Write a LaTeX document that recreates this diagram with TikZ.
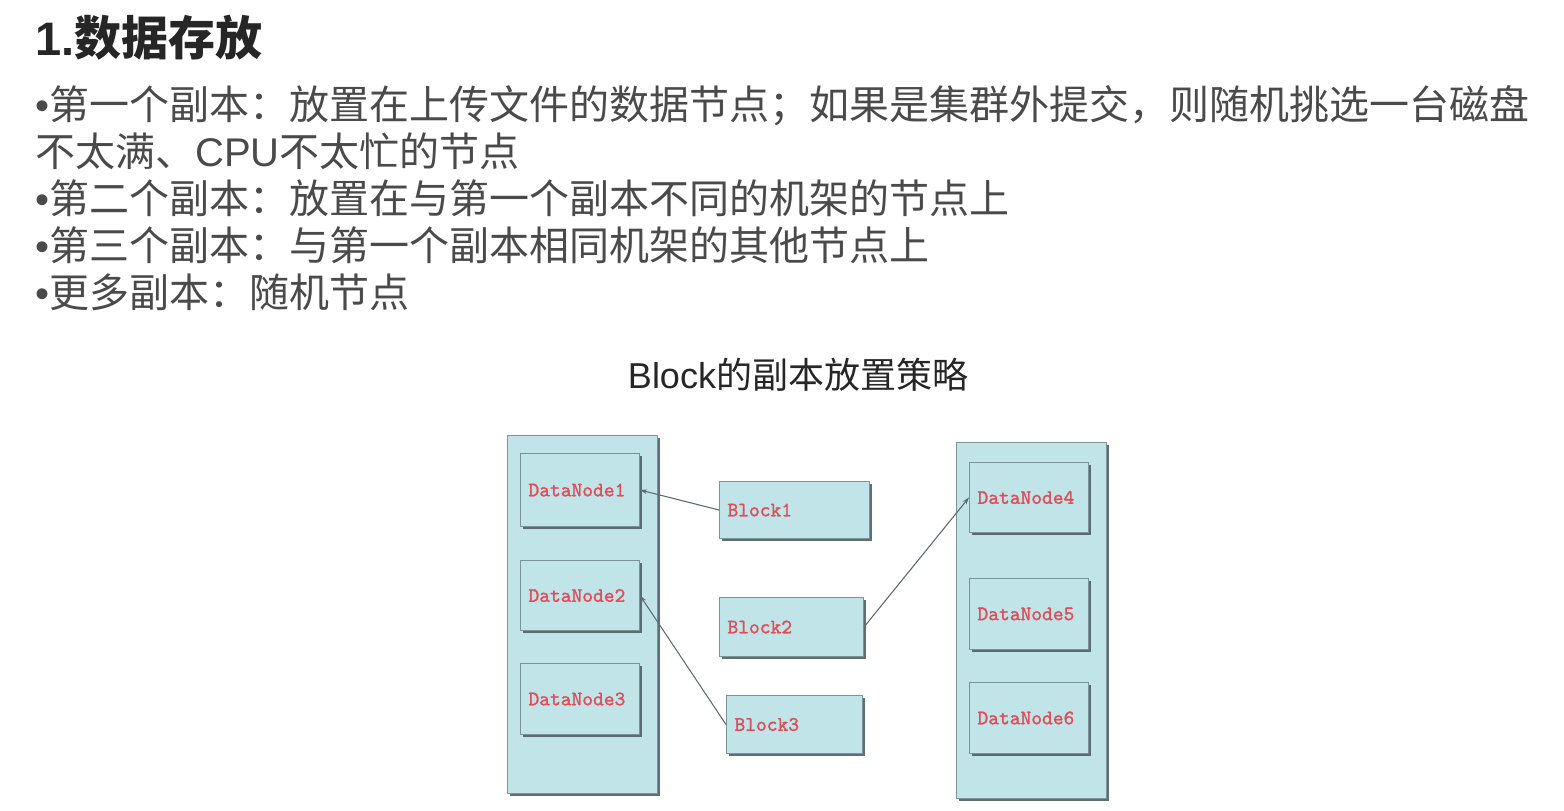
\documentclass[tikz,border=0pt]{standalone}
\usepackage{fontspec}
\setmainfont{Liberation Sans}
\newfontfamily\cjk{Noto Sans CJK SC}
\newfontfamily\lblfont{lmmono10-regular}[Extension=.otf, FakeBold=1.3]
\usetikzlibrary{arrows.meta,shadows}
\definecolor{rackfill}{HTML}{C0E4E8}
\definecolor{edgec}{HTML}{7A9498}
\definecolor{shadc}{HTML}{55666B}
\definecolor{lbl}{HTML}{DD4E58}
\definecolor{connc}{HTML}{5F6B70}
\definecolor{txt}{HTML}{4A4A4A}
\definecolor{ttl}{HTML}{262626}
\tikzset{
  rack/.style={draw=edgec, fill=rackfill, line width=1pt, anchor=north west, inner sep=0pt,
    drop shadow={shadow xshift=2.2pt, shadow yshift=-2.2pt, fill=shadc, opacity=0.95}},
  boxn/.style={rack, align=left, text=lbl, inner xsep=8pt, inner ysep=0pt,
    font=\lblfont\fontsize{20.5}{20.5}\selectfont},
  conn/.style={draw=connc, line width=1.1pt, -{Stealth[length=7pt,width=4.5pt]}},
  line/.style={anchor=west, inner sep=0pt, text=txt, font=\fontsize{40}{40}\selectfont}
}
\begin{document}
\begin{tikzpicture}[x=1pt,y=-1pt]
\useasboundingbox (0,0) rectangle (1564,811);
\node[anchor=west, inner sep=0pt, text=ttl, font=\bfseries\fontsize{47}{47}\selectfont] (title) at (35,38) {1.{\cjk 数据存放}};
\node[line] (l1) at (35,106) {•{\cjk 第一个副本：放置在上传文件的数据节点；如果是集群外提交，则随机挑选一台磁盘}};
\node[line] (l2) at (35,151) {{\cjk 不太满、}CPU{\cjk 不太忙的节点}};
\node[line] (l3) at (35,198) {•{\cjk 第二个副本：放置在与第一个副本不同的机架的节点上}};
\node[line] (l4) at (35,245) {•{\cjk 第三个副本：与第一个副本相同机架的其他节点上}};
\node[line] (l5) at (35,292) {•{\cjk 更多副本：随机节点}};
\node[inner sep=0pt, text=ttl, font=\fontsize{36}{36}\selectfont] (cap) at (798,375) {Block{\cjk 的副本放置策略}};

\node[rack, minimum width=150, minimum height=358] (rackL) at (507,435) {};
\node[boxn, minimum width=119, minimum height=73, text width=103] (dn1) at (520,453) {DataNode1};
\node[boxn, minimum width=119, minimum height=70, text width=103] (dn2) at (520,560) {DataNode2};
\node[boxn, minimum width=119, minimum height=71, text width=103] (dn3) at (520,663) {DataNode3};

\node[boxn, minimum width=150, minimum height=57, text width=134] (b1) at (719,481) {Block1};
\node[boxn, minimum width=144, minimum height=59, text width=128] (b2) at (719,597) {Block2};
\node[boxn, minimum width=136, minimum height=58, text width=120] (b3) at (726,695) {Block3};

\node[rack, minimum width=150, minimum height=356] (rackR) at (956,442) {};
\node[boxn, minimum width=119, minimum height=70, text width=103] (dn4) at (969,462) {DataNode4};
\node[boxn, minimum width=119, minimum height=71, text width=103] (dn5) at (969,578) {DataNode5};
\node[boxn, minimum width=119, minimum height=71, text width=103] (dn6) at (969,682) {DataNode6};

\draw[conn] (b1.west) -- (dn1.east);
\draw[conn] (b3.west) -- (dn2.east);
\draw[conn] (b2.east) -- (dn4.west);
\end{tikzpicture}
\end{document}
